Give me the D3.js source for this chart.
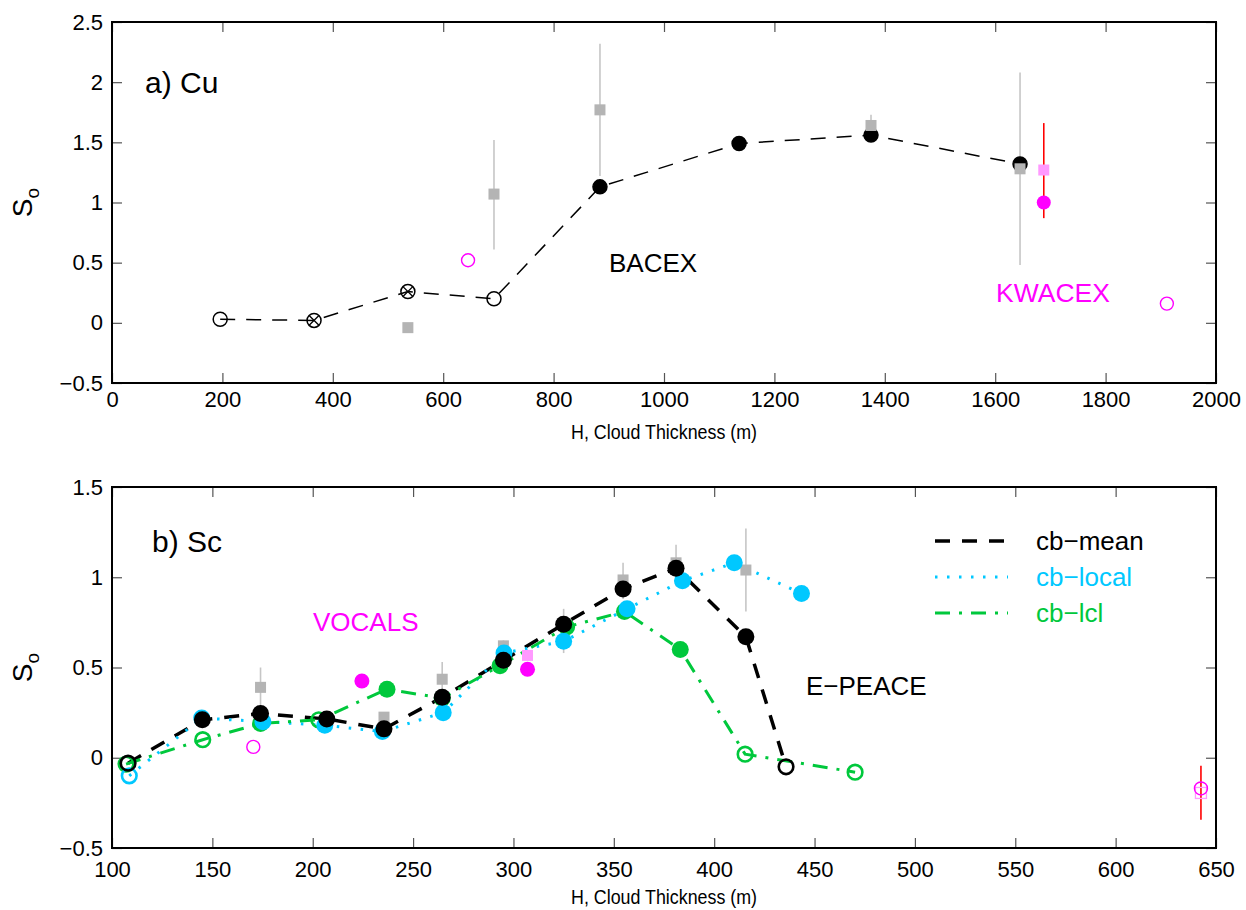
<!DOCTYPE html>
<html>
<head>
<meta charset="utf-8">
<script src="https://cdn.jsdelivr.net/npm/d3@7"></script>
<style>
  body { margin: 0; background: #fff; }
  svg { font-family: Helvetica, "Liberation Sans", Arial, sans-serif; }
</style>
</head>
<body>
<div id="svg-container"></div>
<script>
// Panel a) Cu -- BACEX mean curve
const cuH    = [196, 366, 536, 692, 884, 1136, 1375, 1645];
const cuS    = [0.03, 0.02, 0.26, 0.20, 1.13, 1.49, 1.56, 1.32];
const cuKind = ["open", "cross", "cross", "open", "fill", "fill", "fill", "fill"];

// BACEX grey squares with error bars
const cuSqH  = [536, 692, 884, 1375, 1645];
const cuSqS  = [-0.04, 1.07, 1.77, 1.64, 1.28];
const cuSqLo = [null, 0.61, 1.22, 1.52, 0.48];
const cuSqHi = [null, 1.52, 2.32, 1.73, 2.08];

// KWACEX
const kwOpenH = [645, 1911];
const kwOpenS = [0.52, 0.16];
const kwFillH = [1688];
const kwFillS = [1.00];
const kwBarLo = [0.87];
const kwBarHi = [1.66];
const kwSqH   = [1688];
const kwSqS   = [1.27];

// Panel b) Sc -- E-PEACE curves
const meanH = [108, 145, 174, 207, 235.5, 264.5, 295, 325, 354.6, 381, 415.8, 435.8];
const meanS = [-0.03, 0.21, 0.245, 0.215, 0.16, 0.335, 0.54, 0.74, 0.935, 1.05, 0.67, -0.05];
const meanOpen = [true, false, false, false, false, false, false, false, false, false, false, true];

const localH = [108.6, 144.7, 175.2, 206, 234.7, 265, 295.3, 325, 356.6, 384.2, 410, 443.5];
const localS = [-0.10, 0.22, 0.20, 0.18, 0.145, 0.25, 0.58, 0.645, 0.825, 0.98, 1.08, 0.91];
const localOpen = [true, false, false, false, false, false, false, false, false, false, false, false];

const lclH = [107, 145.2, 174, 203, 237, 264.5, 293.3, 326.5, 355.3, 383.1, 415.4, 470.2];
const lclS = [-0.035, 0.10, 0.19, 0.21, 0.38, 0.33, 0.51, 0.725, 0.81, 0.60, 0.02, -0.08];
const lclOpen = [true, true, false, true, false, false, false, false, false, false, true, true];

// E-PEACE grey squares with error bars
const scSqH  = [174, 235.5, 264.5, 295, 325, 354.6, 381, 415.8];
const scSqS  = [0.39, 0.225, 0.435, 0.62, 0.73, 0.985, 1.08, 1.04];
const scSqLo = [0.28, 0.20, 0.33, 0.52, 0.58, 0.88, 0.95, 0.81];
const scSqHi = [0.50, 0.25, 0.53, 0.65, 0.825, 1.08, 1.18, 1.27];

// VOCALS
const voOpenH = [170.4, 642.5];
const voOpenS = [0.06, -0.17];
const voFillH = [224.5, 307];
const voFillS = [0.425, 0.49];
const voBarH  = [224.5, 642.5];
const voBarLo = [0.40, -0.343];
const voBarHi = [0.45, -0.045];
const voSqH   = [307, 642.5];
const voSqS   = [0.567, -0.195];
const voSqOpen = [false, true];

// Axis ticks
const cuXTicks = [0, 200, 400, 600, 800, 1000, 1200, 1400, 1600, 1800, 2000];
const cuYTicks = [-0.5, 0, 0.5, 1, 1.5, 2, 2.5];
const scXTicks = [100, 150, 200, 250, 300, 350, 400, 450, 500, 550, 600, 650];
const scYTicks = [-0.5, 0, 0.5, 1, 1.5];

const legendNames = ["cb\u2212mean", "cb\u2212local", "cb\u2212lcl"];

// Styles
const cyan = "#00c8ff", green = "#00c83c", magenta = "#ff00ff",
      pink = "#ff99ff", grey = "#b4b4b4", greyBar = "#c6c6c6", red = "#ff0000";

const width = 1246, height = 910;

const svg = d3.select("#svg-container").append("svg")
      .attr("width", width)
      .attr("height", height);

// Scales
const xA = d3.scaleLinear([0, 2000], [112, 1216]);
const yA = d3.scaleLinear([-0.5, 2.5], [383, 22]);
const xB = d3.scaleLinear([100, 650], [112, 1216]);
const yB = d3.scaleLinear([-0.5, 1.5], [848, 487]);

const fmt = d3.format("");

function draw_frame(x, y, xticks, yticks, pad) {
    const [x0, x1] = x.range();
    const [y0, y1] = y.range();
    const g = svg.append("g");

    g.append("g").attr("transform", `translate(0,${y0})`)
        .call(d3.axisBottom(x).tickValues(xticks).tickFormat(fmt).tickSizeInner(-10).tickSizeOuter(0).tickPadding(pad));
    g.append("g").attr("transform", `translate(0,${y1})`)
        .call(d3.axisTop(x).tickValues(xticks).tickFormat("").tickSizeInner(-10).tickSizeOuter(0));
    g.append("g").attr("transform", `translate(${x0},0)`)
        .call(d3.axisLeft(y).tickValues(yticks).tickFormat(fmt).tickSizeInner(-10).tickSizeOuter(0).tickPadding(9));
    g.append("g").attr("transform", `translate(${x1},0)`)
        .call(d3.axisRight(y).tickValues(yticks).tickFormat("").tickSizeInner(-10).tickSizeOuter(0));

    g.selectAll(".domain").remove();
    g.selectAll(".tick line").attr("stroke", "#555").attr("stroke-width", 1.2);
    g.selectAll(".tick text")
        .attr("fill", "#000")
        .attr("font-size", 22)
        .attr("font-family", "Helvetica, 'Liberation Sans', Arial, sans-serif");

    g.append("rect")
        .attr("x", x0).attr("y", y1)
        .attr("width", x1 - x0).attr("height", y0 - y1)
        .attr("fill", "none").attr("stroke", "#000").attr("stroke-width", 2);

    // axis titles
    g.append("text")
        .attr("x", (x0 + x1) / 2)
        .attr("y", y0 + 56)
        .attr("text-anchor", "middle")
        .attr("font-size", 21)
        .attr("textLength", 186)
        .attr("lengthAdjust", "spacingAndGlyphs")
        .text("H, Cloud Thickness (m)");

    const ylab = g.append("text")
        .attr("transform", `translate(32,${(y0 + y1) / 2}) rotate(-90)`)
        .attr("text-anchor", "middle")
        .attr("font-size", 28);
    ylab.append("tspan").text("S");
    ylab.append("tspan").attr("font-size", 19).attr("dy", 7).text("o");
}

// straight segments between the points
function make_line(x, y, hs, ss) {
    return d3.line()
        .x(function(d) { return x(d); })
        .y(function(d, i) { return y(ss[i]); })(hs);
}

function error_bars(g, x, y, hs, lo, hi, colour, w) {
    hs.forEach(function(h, i) {
        if (lo[i] == null) return;
        g.append("line")
            .attr("x1", x(h)).attr("x2", x(h))
            .attr("y1", y(lo[i])).attr("y2", y(hi[i]))
            .attr("stroke", colour).attr("stroke-width", w);
    });
}

function squares(g, x, y, hs, ss, colour, size, open) {
    hs.forEach(function(h, i) {
        const o = open && open[i];
        g.append("rect")
            .attr("x", x(h) - size / 2).attr("y", y(ss[i]) - size / 2)
            .attr("width", size).attr("height", size)
            .attr("fill", o ? "none" : colour)
            .attr("stroke", o ? colour : "none")
            .attr("stroke-width", 1.3);
    });
}

// filled circles use r, open ones a slightly smaller ring
function circles(g, x, y, hs, ss, colour, r, opens, sw, rOpen) {
    hs.forEach(function(h, i) {
        const o = opens && opens[i];
        g.append("circle")
            .attr("cx", x(h)).attr("cy", y(ss[i]))
            .attr("r", o && rOpen ? rOpen : r)
            .attr("fill", o ? "none" : colour)
            .attr("stroke", o ? colour : "none")
            .attr("stroke-width", sw);
    });
}

// ---------- Panel a ----------
draw_frame(xA, yA, cuXTicks, cuYTicks, 8);
const pa = svg.append("g");

pa.append("path")
    .attr("d", make_line(xA, yA, cuH, cuS))
    .attr("fill", "none").attr("stroke", "#000")
    .attr("stroke-width", 1.5).attr("stroke-dasharray", "15,11");

error_bars(pa, xA, yA, cuSqH, cuSqLo, cuSqHi, greyBar, 1.6);

cuH.forEach(function(h, i) {
    const cx = xA(h), cy = yA(cuS[i]), r = 7;
    const k = cuKind[i];
    pa.append("circle").attr("cx", cx).attr("cy", cy).attr("r", r)
        .attr("fill", k == "fill" ? "#000" : "none")
        .attr("stroke", "#000").attr("stroke-width", 1.5);
    if (k == "cross") {
        const d = r * 0.7;
        pa.append("path")
            .attr("d", `M${cx - d},${cy - d}L${cx + d},${cy + d}M${cx - d},${cy + d}L${cx + d},${cy - d}`)
            .attr("stroke", "#000").attr("stroke-width", 1.3);
    }
});

squares(pa, xA, yA, cuSqH, cuSqS, grey, 11);

error_bars(pa, xA, yA, kwFillH, kwBarLo, kwBarHi, red, 1.6);
squares(pa, xA, yA, kwSqH, kwSqS, pink, 11);
circles(pa, xA, yA, kwFillH, kwFillS, magenta, 7);
circles(pa, xA, yA, kwOpenH, kwOpenS, magenta, 6.5, kwOpenH.map(function() { return true; }), 1.4);

pa.append("text").attr("x", 145).attr("y", 93).attr("font-size", 30).text("a) Cu");
pa.append("text").attr("x", 609).attr("y", 272).attr("font-size", 26).text("BACEX");
pa.append("text").attr("x", 996).attr("y", 302).attr("font-size", 26.5).attr("fill", magenta).text("KWACEX");

// ---------- Panel b ----------
draw_frame(xB, yB, scXTicks, scYTicks, 13);
const pb = svg.append("g");

const styles = [
    { hs: meanH,  ss: meanS,  open: meanOpen,  colour: "#000", w: 3.5, dash: "15,12" },
    { hs: localH, ss: localS, open: localOpen, colour: cyan,   w: 3,   dash: "2.5,9.5" },
    { hs: lclH,   ss: lclS,   open: lclOpen,   colour: green,  w: 3,   dash: "15,9,3,9" }
];

styles.forEach(function(s) {
    pb.append("path")
        .attr("d", make_line(xB, yB, s.hs, s.ss))
        .attr("fill", "none").attr("stroke", s.colour)
        .attr("stroke-width", s.w).attr("stroke-dasharray", s.dash);
});

error_bars(pb, xB, yB, scSqH, scSqLo, scSqHi, greyBar, 1.6);
squares(pb, xB, yB, scSqH, scSqS, grey, 11);

// draw order: green, cyan, black on top
[styles[2], styles[1], styles[0]].forEach(function(s) {
    circles(pb, xB, yB, s.hs, s.ss, s.colour, 8.5, s.open, 2.6, 7.3);
});

error_bars(pb, xB, yB, voBarH, voBarLo, voBarHi, red, 1.6);
squares(pb, xB, yB, voSqH, voSqS, pink, 11, voSqOpen);
circles(pb, xB, yB, voFillH, voFillS, magenta, 7.5);
circles(pb, xB, yB, voOpenH, voOpenS, magenta, 6.5, voOpenH.map(function() { return true; }), 1.4);

pb.append("text").attr("x", 152).attr("y", 552).attr("font-size", 30).text("b) Sc");
pb.append("text").attr("x", 313).attr("y", 631).attr("font-size", 26).attr("fill", magenta).text("VOCALS");
pb.append("text").attr("x", 806).attr("y", 695).attr("font-size", 26).text("E\u2212PEACE");

// Legend
const legend = pb.append("g").attr("transform", "translate(935,541)");
styles.forEach(function(s, i) {
    const row = legend.append("g").attr("transform", `translate(0,${i * 36})`);
    row.append("line")
        .attr("x1", 0).attr("x2", 73)
        .attr("stroke", s.colour).attr("stroke-width", s.w)
        .attr("stroke-dasharray", s.dash);
    row.append("text")
        .attr("x", 101).attr("y", 9)
        .attr("font-size", 26)
        .attr("fill", s.colour)
        .text(legendNames[i]);
});
</script>
</body>
</html>
